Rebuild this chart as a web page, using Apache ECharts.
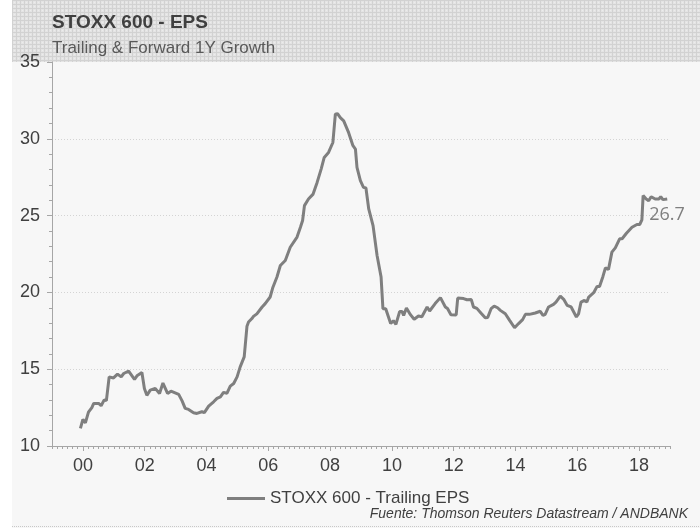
<!DOCTYPE html>
<html>
<head>
<meta charset="utf-8">
<script src="https://cdn.jsdelivr.net/npm/echarts@6/dist/echarts.min.js"></script>
<style>
  html, body { margin: 0; padding: 0; background: #ffffff; }
  #chart { width: 700px; height: 528px; }
</style>
</head>
<body>
<div id="chart"></div>
<script>
// STOXX 600 trailing EPS (x = decimal year)
const years9904 = [1999.92, 2000.00, 2000.08, 2000.18, 2000.29, 2000.35, 2000.51, 2000.59, 2000.69, 2000.76,
  2000.85, 2000.91, 2000.99, 2001.12, 2001.24, 2001.32, 2001.48, 2001.67, 2001.75, 2001.91,
  2001.99, 2002.07, 2002.18, 2002.34, 2002.48, 2002.59, 2002.74, 2002.85, 2003.10, 2003.21,
  2003.31, 2003.42, 2003.58, 2003.69, 2003.85, 2003.93, 2004.07, 2004.23, 2004.34, 2004.45,
  2004.55, 2004.66, 2004.77, 2004.88, 2004.99];
const eps9904 = [11.15, 11.73, 11.5, 12.2, 12.5, 12.77, 12.77, 12.62, 13.0, 12.95,
  14.5, 14.6, 14.43, 14.68, 14.5, 14.72, 14.87, 14.33, 14.57, 14.78,
  13.75, 13.3, 13.64, 13.75, 13.42, 14.1, 13.42, 13.57, 13.36, 12.94,
  12.45, 12.38, 12.17, 12.12, 12.23, 12.17, 12.6, 12.88, 13.1, 13.2,
  13.49, 13.43, 13.9, 14.07, 14.5];

const years0509 = [2005.09, 2005.22, 2005.31, 2005.36, 2005.47, 2005.52, 2005.63, 2005.69, 2005.80, 2005.90,
  2006.06, 2006.15, 2006.28, 2006.39, 2006.55, 2006.71, 2006.93, 2007.04, 2007.11, 2007.17,
  2007.30, 2007.45, 2007.58, 2007.71, 2007.81, 2007.95, 2008.09, 2008.17, 2008.24, 2008.33,
  2008.44, 2008.60, 2008.74, 2008.82, 2008.87, 2008.98, 2009.08, 2009.16, 2009.25, 2009.39,
  2009.52, 2009.65, 2009.71, 2009.80, 2009.96];
const eps0509 = [15.15, 15.8, 17.8, 18.07, 18.3, 18.44, 18.6, 18.72, 19.05, 19.27,
  19.7, 20.34, 21.0, 21.75, 22.08, 22.94, 23.6, 24.24, 24.68, 25.65,
  26.08, 26.4, 27.16, 28.03, 28.79, 29.11, 29.76, 31.6, 31.64, 31.38,
  31.17, 30.4, 29.55, 29.33, 28.14, 27.27, 26.84, 26.8, 25.43, 24.35,
  22.4, 21.0, 18.94, 18.94, 17.97];

const years1015 = [2010.05, 2010.13, 2010.25, 2010.33, 2010.38, 2010.47, 2010.60, 2010.72, 2010.86, 2010.97,
  2011.14, 2011.22, 2011.40, 2011.57, 2011.73, 2011.80, 2011.91, 2012.08, 2012.13, 2012.32,
  2012.43, 2012.57, 2012.64, 2012.75, 2012.88, 2013.02, 2013.10, 2013.21, 2013.31, 2013.42,
  2013.51, 2013.67, 2013.81, 2013.97, 2014.10, 2014.23, 2014.32, 2014.45, 2014.50, 2014.64,
  2014.80, 2014.89, 2014.96, 2015.07, 2015.23, 2015.31, 2015.45, 2015.56, 2015.67, 2015.80,
  2015.97];
const eps1015 = [18.16, 17.92, 18.75, 18.75, 18.5, 18.98, 18.55, 18.25, 18.46, 18.42,
  19.05, 18.79, 19.27, 19.66, 19.05, 18.95, 18.55, 18.53, 19.63, 19.6,
  19.52, 19.53, 19.05, 18.96, 18.66, 18.35, 18.37, 18.94, 19.11, 19.0,
  18.83, 18.61, 18.18, 17.7, 17.97, 18.23, 18.57, 18.57, 18.68, 18.66,
  18.77, 18.5, 18.57, 19.05, 19.22, 19.37, 19.76, 19.55, 19.16, 19.05,
  18.4];

const years1618 = [2016.04, 2016.12, 2016.23, 2016.31, 2016.37, 2016.53, 2016.64, 2016.72, 2016.83, 2016.91,
  2017.01, 2017.12, 2017.23, 2017.37, 2017.45, 2017.59, 2017.77, 2017.93, 2018.02, 2018.09,
  2018.13, 2018.23, 2018.31, 2018.39, 2018.52, 2018.64, 2018.70, 2018.77, 2018.91];
const eps1618 = [18.6, 19.37, 19.48, 19.37, 19.7, 19.98, 20.39, 20.39, 21.04, 21.6,
  21.5, 22.62, 22.9, 23.49, 23.49, 23.85, 24.24, 24.42, 24.42, 24.72,
  26.3, 26.08, 25.97, 26.23, 26.08, 26.08, 26.23, 26.04, 26.08];

const majorYears = [2000, 2002, 2004, 2006, 2008, 2010, 2012, 2014, 2016, 2018];
const seriesName = 'STOXX 600 - Trailing EPS';
const lastLabel = '26.7';

const years = years9904.concat(years0509, years1015, years1618);
const eps = eps9904.concat(eps0509, eps1015, eps1618);
const lineData = years.map((y, i) => [y, eps[i]]);

// minor ticks every two months
const minorTicks = [];
for (let k = 0; k <= 120; k++) minorTicks.push(1999 + k / 6);

// checkered header pattern
const pat = document.createElement('canvas');
pat.width = 4; pat.height = 4;
const pc = pat.getContext('2d');
pc.fillStyle = '#e4e4e4'; pc.fillRect(0, 0, 4, 4);
pc.fillStyle = '#d2d2d2'; pc.fillRect(0, 0, 1, 4); pc.fillRect(0, 0, 4, 1);
pc.fillStyle = '#ececec'; pc.fillRect(2, 2, 1, 1);

const chart = echarts.init(document.getElementById('chart'), null, { renderer: 'canvas' });

const axisGray = '#a6a6a6';
const textDark = '#404040';

chart.setOption({
    animation: false,
    backgroundColor: '#ffffff',
    textStyle: { fontFamily: 'Liberation Sans, Arial, sans-serif' },
    graphic: [
        {
            type: 'rect', z: -10, silent: true,
            shape: { x: 12, y: 0, width: 688, height: 528 },
            style: { fill: '#f7f7f7' }
        },
        {
            type: 'rect', z: -9, silent: true,
            shape: { x: 12, y: 0, width: 688, height: 62 },
            style: { fill: { image: pat, repeat: 'repeat' } }
        },
        {
            type: 'line', z: -8, silent: true,
            shape: { x1: 12, y1: 526.5, x2: 700, y2: 526.5 },
            style: { stroke: '#c8c8c8', lineWidth: 1, lineDash: [1, 1] }
        },
        {
            type: 'text', right: 12, top: 507, silent: true,
            style: {
                text: 'Fuente: Thomson Reuters Datastream / ANDBANK',
                fill: textDark,
                font: 'italic 14px "Liberation Sans", Arial, sans-serif'
            }
        }
    ],
    title: {
        text: 'STOXX 600 - EPS',
        subtext: 'Trailing & Forward 1Y Growth',
        left: 47,
        top: 7,
        itemGap: 6,
        textStyle: { fontSize: 19, fontWeight: 'bold', color: textDark, lineHeight: 21 },
        subtextStyle: { fontSize: 17, color: '#595959', lineHeight: 18 }
    },
    legend: {
        data: [seriesName],
        left: 222,
        top: 485,
        icon: 'rect',
        itemWidth: 38,
        itemHeight: 3,
        textStyle: { fontSize: 17, color: textDark }
    },
    grid: { left: 52, right: 30, top: 62, bottom: 82, containLabel: false },
    xAxis: [
        {
            type: 'value',
            min: 1999,
            max: 2019,
            axisLine: { show: true, lineStyle: { color: axisGray } },
            axisTick: { show: true, customValues: majorYears, length: 5, lineStyle: { color: axisGray } },
            axisLabel: {
                customValues: majorYears,
                formatter: v => String(Math.round(v) % 100).padStart(2, '0'),
                fontSize: 18,
                color: textDark,
                margin: 11
            },
            splitLine: { show: false }
        },
        {
            type: 'value',
            min: 1999,
            max: 2019,
            position: 'bottom',
            axisLine: { show: false },
            axisTick: { show: true, customValues: minorTicks, length: 3, lineStyle: { color: axisGray } },
            axisLabel: { show: false },
            splitLine: { show: false }
        }
    ],
    yAxis: {
        type: 'value',
        min: 10,
        max: 35,
        interval: 5,
        axisLine: { show: true, lineStyle: { color: axisGray } },
        axisTick: { show: true, length: 5, lineStyle: { color: axisGray } },
        minorTick: { show: true, splitNumber: 5, length: 3, lineStyle: { color: axisGray } },
        axisLabel: { fontSize: 18, color: textDark, margin: 12 },
        splitLine: {
            show: true,
            showMaxLine: false,
            showMinLine: false,
            lineStyle: { color: '#d4d4d4', type: [1, 2] }
        }
    },
    series: [
        {
            name: seriesName,
            type: 'line',
            xAxisIndex: 0,
            data: lineData,
            showSymbol: false,
            symbol: 'none',
            color: '#7f7f7f',
            lineStyle: { color: '#7f7f7f', width: 3 },
            endLabel: {
                show: true,
                formatter: () => lastLabel,
                distance: 0,
                offset: [-18, 16],
                color: '#7f7f7f',
                fontSize: 18,
                fontFamily: 'Open Sans, sans-serif'
            }
        }
    ]
});
</script>
</body>
</html>
